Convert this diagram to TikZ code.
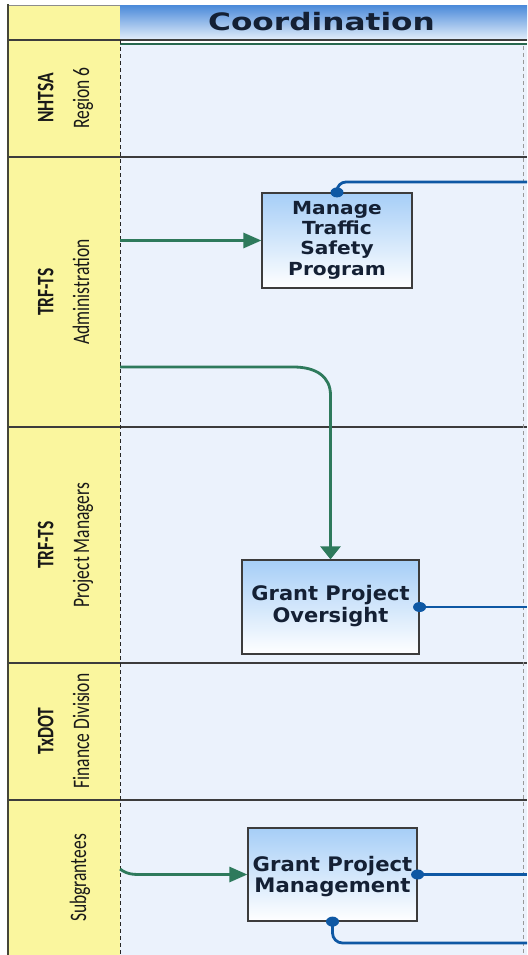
\documentclass[tikz,border=0pt]{standalone}
\usepackage{fontspec}
\usepackage{graphicx}
\setmainfont{DejaVu Sans}
\newfontfamily\lanefont{Carlito}
\usetikzlibrary{arrows.meta,calc}
\definecolor{laneyellow}{RGB}{250,246,158}
\definecolor{lanebg}{RGB}{235,242,252}
\definecolor{flowgreen}{RGB}{46,122,92}
\definecolor{flowblue}{RGB}{14,88,164}
\definecolor{framegray}{RGB}{60,60,60}
\definecolor{bordergray}{RGB}{70,70,55}
\definecolor{textnavy}{RGB}{20,32,52}
\definecolor{hdrtop}{RGB}{78,140,218}
\definecolor{hdrbot}{RGB}{228,239,251}
\definecolor{boxtop}{RGB}{166,206,247}
\newcommand{\boxtxt}[5]{\raisebox{#4}[\height][\depth]{\scalebox{#3}[1]{\fontsize{#2}{#5}\selectfont\bfseries\begin{tabular}{@{}c@{}}#1\end{tabular}}}}
\newcommand{\lanetxt}[2]{\scalebox{1}[1.35]{\lanefont\fontsize{17.5}{26.5}\selectfont\begin{tabular}{@{}c@{}}\textbf{#1}\\#2\end{tabular}}}
\tikzset{
  procbox/.style={draw=framegray, line width=1.2pt, top color=boxtop, bottom color=white, inner sep=0pt, text=textnavy},
  lanelabel/.style={rotate=90, inner sep=0pt, text=black!90},
  greenh/.style={draw=flowgreen, line width=2.8pt, -{Triangle[length=18pt,width=15pt]}},
  greenv/.style={draw=flowgreen, line width=2.8pt, -{Triangle[length=13pt,width=20pt]}},
  blueflow/.style={draw=flowblue, line width=2.8pt},
  lanerule/.style={draw=framegray, line width=1.3pt},
}
\begin{document}
\begin{tikzpicture}[x=1pt,y=-1pt]
\useasboundingbox (0,0) rectangle (527,955);
% backgrounds
\fill[lanebg] (120,44) rectangle (527,955);
\fill[laneyellow] (9,5) rectangle (120,955);
\shade[top color=hdrtop,bottom color=hdrbot] (120,6) rectangle (527,40);
\node[text=textnavy, inner sep=0pt] (hdr) at (321.5,21.5) {\scalebox{1.3}[1]{\fontsize{24}{28}\selectfont\bfseries Coordination}};
% rules
\draw[draw=flowgreen!85!black, line width=2.6pt] (120,44) -- (527,44);
\draw[black!45, line width=0.6pt] (8,5) -- (120,5);
\draw[lanerule] (8,40) -- (527,40);
\draw[lanerule] (8,157) -- (527,157);
\draw[lanerule] (8,427) -- (527,427);
\draw[lanerule] (8,663) -- (527,663);
\draw[lanerule] (8,800) -- (527,800);
\draw[bordergray, line width=2.6pt] (8,4.5) -- (8,955);
\draw[black!85, line width=1pt, dash pattern=on 4pt off 3pt] (120,40) -- (120,955);
\draw[black!40, line width=0.8pt, dash pattern=on 4pt off 3pt] (523,46) -- (523,955);
% lane labels
\node[lanelabel] (l1) at (64,98) {\lanetxt{NHTSA}{Region 6}};
\node[lanelabel] (l2) at (64,292) {\lanetxt{TRF-TS}{Administration}};
\node[lanelabel] (l3) at (64,545) {\lanetxt{TRF-TS}{Project Managers}};
\node[lanelabel] (l4) at (64,731) {\lanetxt{TxDOT}{Finance Division}};
\node[lanelabel] (l5) at (80,878) {\scalebox{1}[1.35]{\lanefont\fontsize{17.5}{26.5}\selectfont Subgrantees}};
% process boxes
\node[procbox, minimum width=150pt, minimum height=95pt] (mtsp) at (337,240.5) {\boxtxt{Manage\\Traffic\\Safety\\Program}{18}{1.12}{0pt}{20.3pt}};
\node[procbox, minimum width=177pt, minimum height=94pt] (gpo) at (330.5,607) {\boxtxt{Grant Project\\Oversight}{20}{1.05}{0pt}{21pt}};
\node[procbox, minimum width=169pt, minimum height=93pt] (gpm) at (332.5,874.5) {\boxtxt{Grant Project\\Management}{20}{1.06}{-3pt}{19.5pt}};
% free ends
\coordinate (a1) at (120,240.5);
\coordinate (a2) at (120,367);
\coordinate (s1) at (120,869);
\coordinate (e1) at (527,182);
\coordinate (e2) at (527,607);
\coordinate (e3) at (527,875);
\coordinate (e4) at (527,943);
% green flows
\draw[greenh] (a1) -- (mtsp.west);
\draw[greenv] (a2) -- ($(a2 -| gpo.north)+(-37,0)$) .. controls ($(a2 -| gpo.north)+(-14,0)$) and ($(a2 -| gpo.north)+(0,10)$) .. ($(a2 -| gpo.north)+(0,28)$) -- (gpo.north);
\draw[greenh] (s1) .. controls (128,875) and (134,874.5) .. (146,874.5) -- (gpm.west);
% blue flows
\draw[blueflow, rounded corners=9pt] (mtsp.north) -- (mtsp.north |- e1) -- (e1);
\draw[blueflow] (gpo.east) -- (e2);
\draw[blueflow] (gpm.east) -- (gpm.east -| e3);
\draw[blueflow, rounded corners=10pt] (gpm.south) -- (gpm.south |- e4) -- (e4);
\fill[flowblue] (mtsp.north) ellipse (6.5pt and 5pt);
\fill[flowblue] (gpo.east) ellipse (6.5pt and 5pt);
\fill[flowblue] (gpm.east) ellipse (6.5pt and 5pt);
\fill[flowblue] (gpm.south) ellipse (6.5pt and 5pt);
\end{tikzpicture}
\end{document}
